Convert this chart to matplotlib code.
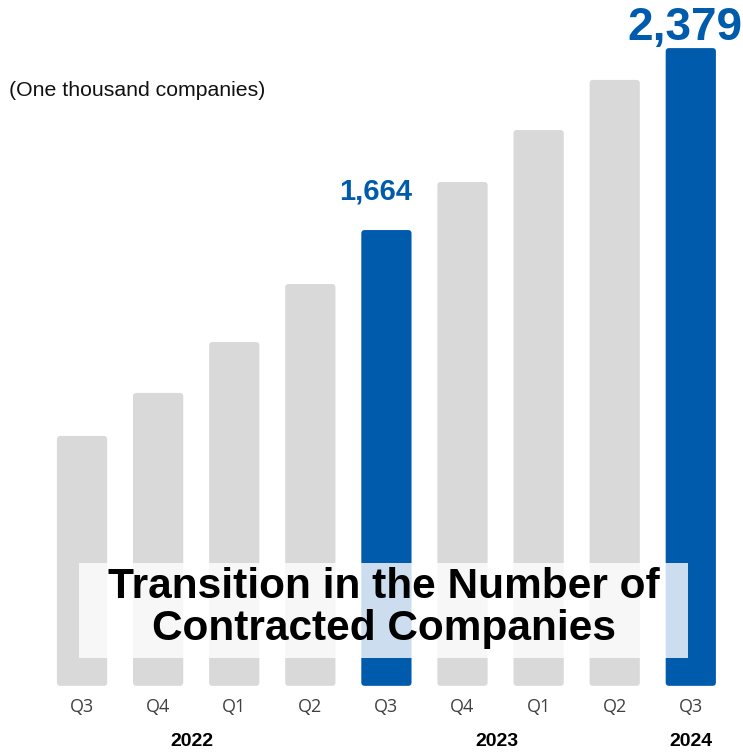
import matplotlib.pyplot as plt
from matplotlib.patches import Rectangle, FancyBboxPatch

# contracted companies, thousands
quarters = ["Q3", "Q4", "Q1", "Q2", "Q3", "Q4", "Q1", "Q2", "Q3"]
values = [855, 1024, 1224, 1452, 1664, 1853, 2057, 2254, 2379]
highlight = [False, False, False, False, True, False, False, False, True]
years = ["2022", "2023", "2024"]
year_pos = [1.45, 5.45, 8.0]

BLUE = "#005BAC"
GREY = "#D9D9D9"
base = -127  # bars hang a bit below the zero line

fig = plt.figure(figsize=(7.43, 7.52), dpi=100)
ax = fig.add_axes([0, 0, 1, 1])
ax.set_xlim(-1.078, 8.686)
ax.set_ylim(-387, 2568)
ax.axis("off")

x = list(range(len(values)))
colors = [BLUE if h else GREY for h in highlight]
bars = ax.bar(x, [v - base for v in values], bottom=base, width=0.66, color=colors)

# swap the plain rectangles for slightly rounded ones
for b in bars:
    bx, by = b.get_xy()
    rb = FancyBboxPatch((bx, by), b.get_width(), b.get_height(),
                        boxstyle="round,pad=0,rounding_size=0.045",
                        mutation_aspect=300, facecolor=b.get_facecolor(),
                        edgecolor="none")
    b.remove()
    ax.add_patch(rb)

# value labels on the highlighted bars
ax.text(3.86, 1786, "{:,}".format(values[4]), ha="center", va="baseline",
        fontsize=21, fontweight="bold", color=BLUE, family="Liberation Sans")
ax.text(7.92, 2411, "{:,}".format(values[8]), ha="center", va="baseline",
        fontsize=33, fontweight="bold", color=BLUE, family="Liberation Sans")

for i, q in enumerate(quarters):
    ax.text(i, -210, q, ha="center", va="center", fontsize=13,
            color="#404040", family="Open Sans")
for pos, yr in zip(year_pos, years):
    ax.text(pos, -345, yr, ha="center", va="center", fontsize=14,
            fontweight="bold", color="black", family="Liberation Sans")

fig.text(0.012, 0.88, "(One thousand companies)", ha="left", va="center",
         fontsize=15.3, color="#111111", family="Liberation Sans")

# semi-transparent title panel over the bars
fig.patches.append(Rectangle((79 / 743, 1 - 658 / 752), 609 / 743, 95 / 752,
                             transform=fig.transFigure, facecolor="white",
                             alpha=0.8, edgecolor="none", zorder=5))
fig.text(384 / 743, 1 - 608 / 752,
         "Transition in the Number of\nContracted Companies",
         ha="center", va="center", fontsize=30.5, fontweight="bold",
         linespacing=1.05, color="black", zorder=6, family="Liberation Sans")

fig.savefig("out.png", dpi=100)
